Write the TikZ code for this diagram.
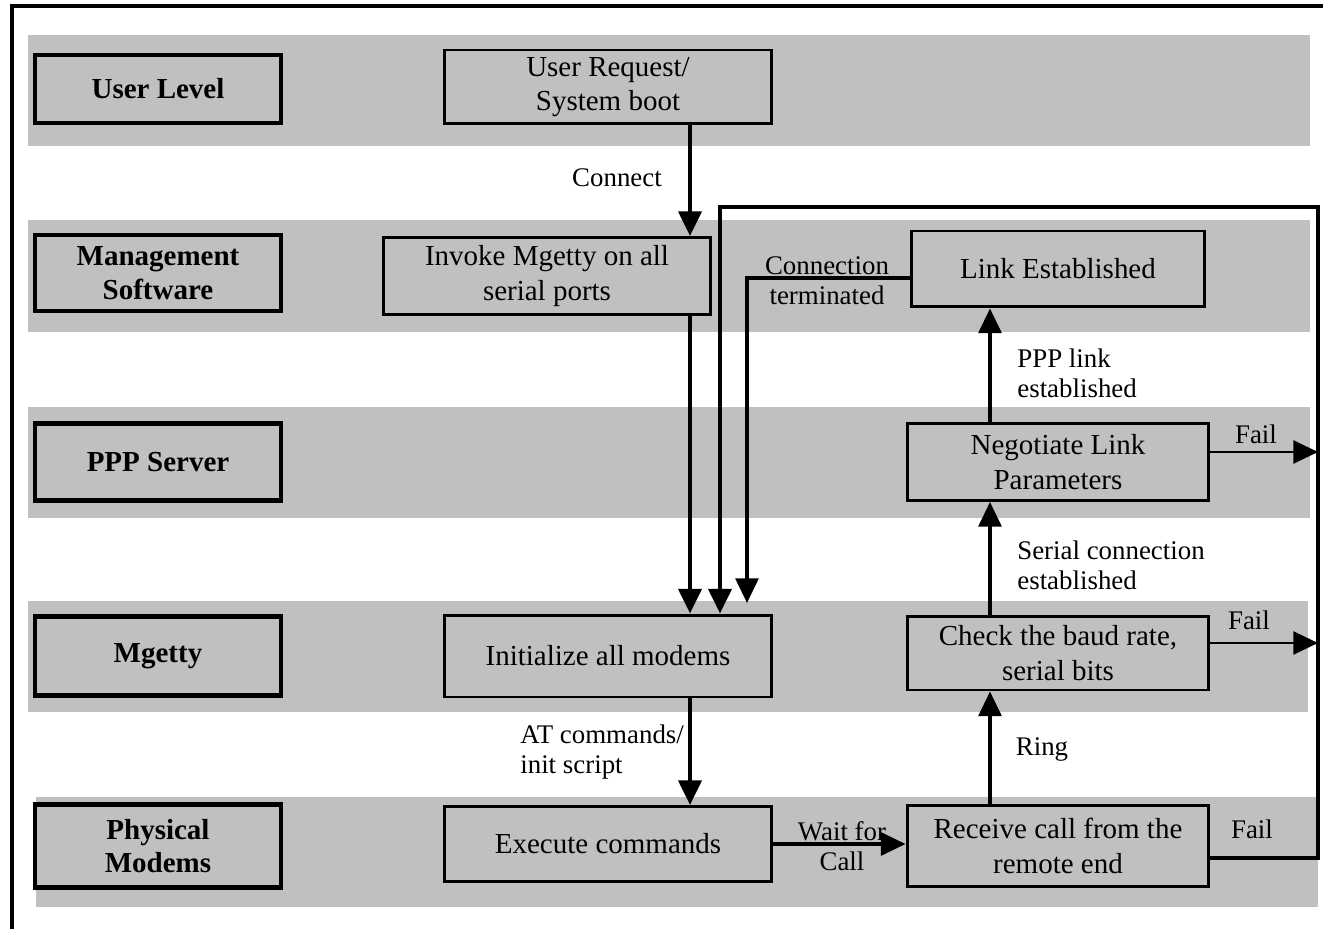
\documentclass[tikz,border=0pt]{standalone}
\usepackage{fontspec}
\setmainfont{Liberation Serif}
\usetikzlibrary{arrows.meta,positioning,calc}
\definecolor{bandgray}{HTML}{C0C0C0}

\begin{document}
\begin{tikzpicture}[x=0.02cm,y=-0.02cm,>={Triangle[length=14pt,width=13pt]},
  lvl/.style={draw,line width=2.4pt,minimum width=4.92cm,inner sep=0pt,align=center,font=\fontsize{16.5}{19}\selectfont\bfseries},
  stepbox/.style={draw,line width=1.7pt,inner sep=0pt,align=center,font=\fontsize{16.5}{19.5}\selectfont},
  lbl/.style={inner sep=0pt,align=left,font=\fontsize{15.3}{17}\selectfont},
  flow/.style={->,line width=2.4pt},
  thin/.style={->,line width=1.6pt}]
\useasboundingbox[fill=white] (0,0) rectangle (1323,929);
% layer bands
\foreach \l/\t/\b/\r in {28/35/146/1310,28/220/332/1310,28/407/518/1310,28/601/712/1308,36/797/907/1318}{\fill[bandgray] (\l,\t) rectangle (\r,\b);}
\draw[line width=2.4pt] (12,929)--(12,6)--(1323,6);
% layer names
\node[lvl,minimum height=1.36cm] (user) at (158,89) {User Level};
\node[lvl,minimum height=1.52cm] (mgmt) at (158,273) {Management\\Software};
\node[lvl,minimum height=1.54cm] (ppp) at (158,462) {PPP Server};
\node[lvl,minimum height=1.58cm] (mget) at (158,656) {Mgetty};
\node[lvl,minimum height=1.66cm] (phys) at (158,846) {Physical\\Modems};
% steps
\node[stepbox,minimum width=6.54cm,minimum height=1.48cm] (req) at (608,87) {User Request/\\System boot};
\node[stepbox,minimum width=6.54cm,minimum height=1.54cm] (invoke) at (547,276) {Invoke Mgetty on all\\serial ports};
\node[stepbox,minimum width=6.54cm,minimum height=1.64cm] (init) at (608,656) {Initialize all modems};
\node[stepbox,minimum width=6.54cm,minimum height=1.5cm] (exec) at (608,844) {Execute commands};
\node[stepbox,minimum width=5.88cm,minimum height=1.52cm] (link) at (1058,269) {Link Established};
\node[stepbox,minimum width=6.04cm,minimum height=1.54cm] (nego) at (1058,462) {Negotiate Link\\Parameters};
\node[stepbox,minimum width=6.04cm,minimum height=1.48cm] (check) at (1058,653) {Check the baud rate,\\serial bits};
\node[stepbox,minimum width=6.04cm,minimum height=1.62cm] (recv) at (1058,846) {Receive call from the\\remote end};
% connectors
\coordinate (down) at (690,0);
\coordinate (up) at (990,0);
\coordinate (loop) at (720,207);
\coordinate (term) at (747,278);
\coordinate (edge) at (1318,858);
\draw[flow] (req.south -| down)--(invoke.north -| down);
\draw[flow] (invoke.south -| down)--(init.north -| down);
\draw[flow] (recv.east |- edge)--(edge)--(edge |- loop)--(loop)--(loop |- init.north);
\draw[->,line width=1.9pt] (link.west |- term)--(term)--([yshift=6pt]term |- init.north);
\draw[flow] (init.south -| down)--(exec.north -| down);
\draw[->,line width=1.9pt] (exec.east)--(exec.east -| recv.west);
\draw[->,line width=1.9pt] (recv.north -| up)--(check.south -| up);
\draw[->,line width=1.9pt] (check.north -| up)--(nego.south -| up);
\draw[->,line width=1.9pt] (nego.north -| up)--(link.south -| up);
\draw[thin] (nego.east |- 0,452)--(edge |- 0,452);
\draw[thin] (check.east |- 0,643)--(edge |- 0,643);
% labels
\node[lbl] (lconn) at (617,178) {Connect};
\node[lbl,align=center] (lterm) at (827,281) {Connection\\terminated};
\node[lbl,anchor=west] (lppp) at (1017,373) {PPP link\\established};
\node[lbl,anchor=west] (lser) at (1017,565) {Serial connection\\established};
\node[lbl] (lring) at (1042,749) {Ring};
\node[lbl,anchor=west] (lat) at (520,752) {AT commands/\\init script};
\node[lbl,align=center] (lwait) at (842,846) {Wait for\\Call};
\node[lbl] (lfail1) at (1256,434) {Fail};
\node[lbl] (lfail2) at (1249,620) {Fail};
\node[lbl] (lfail3) at (1252,829) {Fail};
\end{tikzpicture}
\end{document}
